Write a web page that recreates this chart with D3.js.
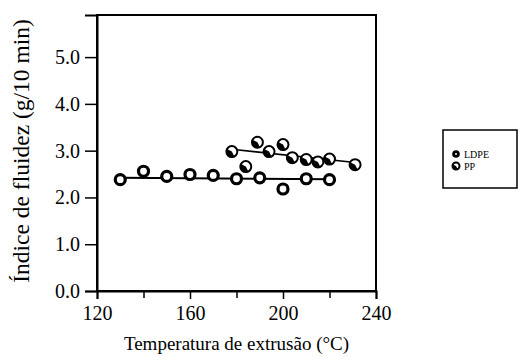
<!DOCTYPE html>
<html>
<head>
<meta charset="utf-8">
<script src="https://cdn.jsdelivr.net/npm/d3@7"></script>
<style>
  body { margin: 0; background: #fff; }
  text { font-family: "Liberation Serif", "DejaVu Serif", serif; fill: #000; }
</style>
</head>
<body>
<svg id="chart" width="521" height="358"></svg>
<script>
// values
var ldpe_temp = [130, 140, 150, 160, 170, 180, 190, 200, 210, 220];
var ldpe_mfi  = [2.38, 2.56, 2.45, 2.49, 2.47, 2.40, 2.42, 2.18, 2.40, 2.38];
var pp_temp = [178, 184, 189, 194, 200, 204, 210, 215, 220, 231];
var pp_mfi  = [2.98, 2.66, 3.18, 2.98, 3.13, 2.85, 2.81, 2.76, 2.82, 2.70];
var ldpe_fit = [[130, 2.42], [222, 2.39]];
var pp_fit = [[180, 3.02], [232, 2.74]];
var x_ticks = [120, 160, 200, 240];
var x_minor = [140, 180, 220];
var y_ticks = [0, 1, 2, 3, 4, 5];
var series_names = ["LDPE", "PP"];

var svg = d3.select('#chart');
var plot_left = 97, plot_right = 376, plot_top = 15, plot_bottom = 291;

var x = d3.scaleLinear().domain([120, 240]).range([plot_left, plot_right]);
var y = d3.scaleLinear().domain([0, 5.9]).range([plot_bottom, plot_top]);

// frame
svg.append('rect')
  .attr('x', plot_left).attr('y', plot_top)
  .attr('width', plot_right - plot_left).attr('height', plot_bottom - plot_top)
  .attr('fill', 'none').attr('stroke', '#000').attr('stroke-width', 2);

// axes
var xAxis = svg.append('g').attr('transform', 'translate(0,' + plot_bottom + ')')
  .call(d3.axisBottom(x).tickValues(x_ticks).tickSize(8).tickPadding(7).tickFormat(d3.format('d')));
svg.append('g').attr('transform', 'translate(0,' + plot_bottom + ')')
  .call(d3.axisBottom(x).tickValues(x_minor).tickSize(7).tickFormat(''))
  .select('.domain').remove();
var yAxis = svg.append('g').attr('transform', 'translate(' + plot_left + ',0)')
  .call(d3.axisLeft(y).tickValues(y_ticks).tickSize(12).tickPadding(5).tickFormat(d3.format('.1f')));

[xAxis, yAxis].forEach(function(a) {
  a.attr('font-family', '"Liberation Serif", serif');
  a.select('.domain').attr('stroke-width', 2);
  a.selectAll('.tick text')
    .attr('font-family', '"Liberation Serif", serif')
    .style('font-family', '"Liberation Serif", serif')
    .style('font-size', '20px');
});
svg.selectAll('g .tick line').attr('stroke-width', 1.5);

// titles
svg.append('text')
  .attr('x', (plot_left + plot_right) / 2).attr('y', 350)
  .attr('text-anchor', 'middle').style('font-size', '19px')
  .text('Temperatura de extrusão (°C)');
svg.append('text')
  .attr('transform', 'translate(29,151) rotate(-90)')
  .attr('text-anchor', 'middle').style('font-size', '23.5px')
  .text('Índice de fluidez (g/10 min)');

// fit lines
var line = d3.line().x(function(d) { return x(d[0]); }).y(function(d) { return y(d[1]); });
svg.append('path').datum(ldpe_fit).attr('d', line)
  .attr('fill', 'none').attr('stroke', '#000').attr('stroke-width', 2);
svg.append('path').datum(pp_fit).attr('d', line)
  .attr('fill', 'none').attr('stroke', '#000').attr('stroke-width', 1.6);

// markers
function ldpeMarker(g, r) {
  g.append('circle').attr('r', r).attr('fill', '#fff')
    .attr('stroke', '#000').attr('stroke-width', 3.2);
}
function ppMarker(g, r) {
  g.append('circle').attr('r', r).attr('fill', '#fff')
    .attr('stroke', '#000').attr('stroke-width', 2);
  // dark wedge on the lower left
  g.append('path')
    .attr('d', d3.arc()({ innerRadius: 0, outerRadius: r, startAngle: Math.PI * 0.85, endAngle: Math.PI * 1.65 }))
    .attr('fill', '#000');
}

svg.append('g').selectAll('g').data(ldpe_temp).enter().append('g')
  .attr('transform', function(d, i) { return 'translate(' + x(d) + ',' + y(ldpe_mfi[i]) + ')'; })
  .each(function() { ldpeMarker(d3.select(this), 5); });

svg.append('g').selectAll('g').data(pp_temp).enter().append('g')
  .attr('transform', function(d, i) { return 'translate(' + x(d) + ',' + y(pp_mfi[i]) + ')'; })
  .each(function() { ppMarker(d3.select(this), 5.5); });

// legend
var legend = svg.append('g');
legend.append('rect')
  .attr('x', 443).attr('y', 130).attr('width', 74).attr('height', 58)
  .attr('fill', '#fff').attr('stroke', '#000').attr('stroke-width', 1.5);
series_names.forEach(function(name, i) {
  var row = legend.append('g').attr('transform', 'translate(456,' + (154 + i * 12) + ')');
  if (i == 0) {
    row.append('circle').attr('r', 3.8).attr('fill', '#000');
    row.append('circle').attr('r', 1).attr('fill', '#fff');
  } else {
    ppMarker(row, 3.5);
  }
  row.append('text').attr('x', 8).attr('y', 3.5)
    .style('font-size', '10px').text(name);
});
</script>
</body>
</html>
